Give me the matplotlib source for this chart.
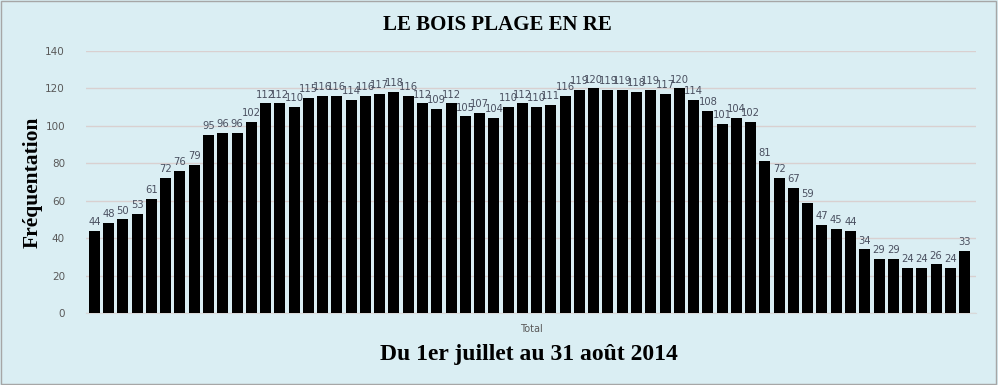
import numpy as np
import matplotlib
matplotlib.use("Agg")
import matplotlib.pyplot as plt

# fréquentation journalière, 1er juillet -> 31 août 2014
valeurs = [44, 48, 50, 53, 61, 72, 76, 79, 95, 96, 96, 102, 112, 112, 110,
           115, 116, 116, 114, 116, 117, 118, 116, 112, 109, 112, 105, 107, 104,
           110, 112, 110, 111, 116, 119, 120, 119, 119, 118, 119, 117, 120, 114,
           108, 101, 104, 102, 81, 72, 67, 59, 47, 45, 44, 34, 29, 29, 24, 24,
           26, 24, 33]
yticks = [0, 20, 40, 60, 80, 100, 120, 140]

fond = '#DAEEF3'
fig = plt.figure(figsize=(9.98, 3.85), dpi=100, facecolor=fond)
fig.patches.append(plt.Rectangle((0.001, 0.002), 0.997, 0.995, transform=fig.transFigure,
                                 fill=False, edgecolor='#A6A6A6', linewidth=1))
ax = fig.add_axes([0.086, 0.187, 0.892, 0.681], facecolor=fond)

x = np.arange(len(valeurs))
ax.bar(x, valeurs, width=0.77, color='black', zorder=3)
for xi, v in zip(x, valeurs):
    ax.text(xi, v + 2, str(v), ha='center', va='bottom', fontsize=7.2,
            color='#4A5060', family='DejaVu Sans', zorder=4)

ax.set_ylim(0, 140)
ax.set_xlim(-0.6, len(valeurs) - 0.2)
ax.set_yticks(yticks)
ax.tick_params(axis='y', length=0, labelsize=7.5, labelcolor='#595959', pad=15)
ax.set_xticks([])
ax.grid(axis='y', color='#D9D0D0', linewidth=1, zorder=0)
for s in ['top', 'right', 'left']:
    ax.spines[s].set_visible(False)
ax.spines['bottom'].set_color('#D9D9D9')

ax.set_ylabel('Fréquentation', fontsize=15.5, fontweight='bold',
              family='Liberation Serif', labelpad=2)
ax.set_xlabel('Total', fontsize=7, color='#595959', labelpad=8)

fig.text(0.498, 0.935, 'LE BOIS PLAGE EN RE', ha='center', va='center',
         fontsize=15, fontweight='bold', family='Liberation Serif')
fig.text(0.53, 0.078, 'Du 1er juillet au 31 août 2014', ha='center', va='center',
         fontsize=17, fontweight='bold', family='Liberation Serif')

fig.savefig('out.png', dpi=100, facecolor=fond)
